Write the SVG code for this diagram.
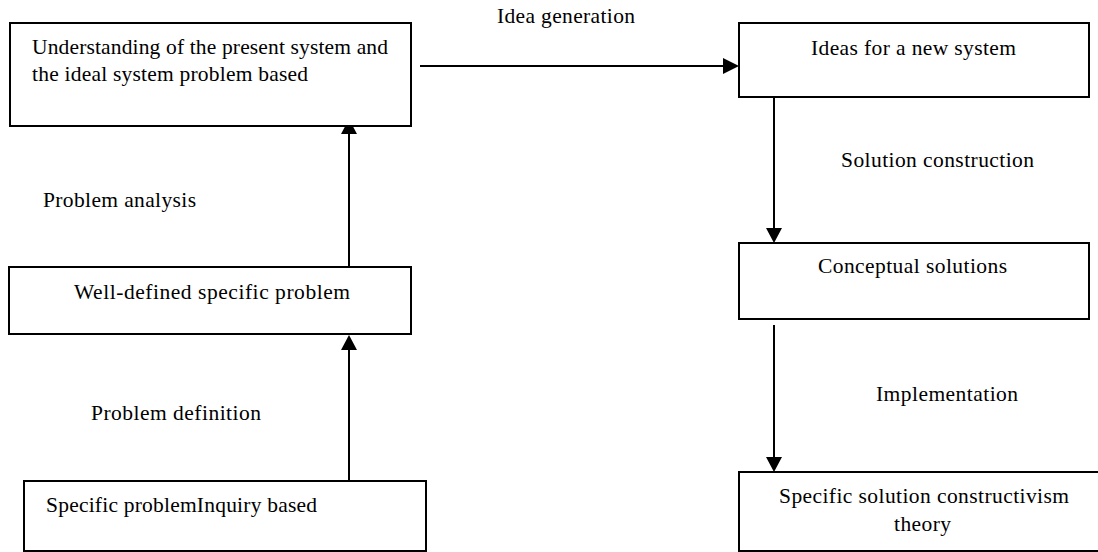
<svg xmlns="http://www.w3.org/2000/svg" width="1098" height="552" viewBox="0 0 1098 552">
<style>
.box{fill:#fff;stroke:#000;stroke-width:2}
text{font-family:'Liberation Serif','Times New Roman','DejaVu Serif',serif;font-size:21.5px;fill:#000}
.c{stroke:#000;stroke-width:2;fill:none}
.ah{fill:#000}
</style>
<rect width="1098" height="552" fill="#fff"/>
<g id="connectors">
<line class="c" x1="420" y1="66" x2="726" y2="66"/>
<line class="c" x1="349" y1="267" x2="349" y2="130"/>
<line class="c" x1="349" y1="481" x2="349" y2="346"/>
<line class="c" x1="774" y1="97" x2="774" y2="230"/>
<line class="c" x1="774" y1="325" x2="774" y2="459"/>
<path class="ah" d="M739,66 L723,58 L723,74 z"/>
<path class="ah" d="M349,119 L341,134 L357,134 z"/>
<path class="ah" d="M349,335 L341,350 L357,350 z"/>
<path class="ah" d="M774,243 L766,228 L782,228 z"/>
<path class="ah" d="M774,472 L766,457 L782,457 z"/>
<text x="497" y="23" textLength="138">Idea generation</text>
<text x="43" y="207" textLength="153">Problem analysis</text>
<text x="91" y="420" textLength="170">Problem definition</text>
<text x="841" y="167" textLength="193">Solution construction</text>
<text x="876" y="401" textLength="142">Implementation</text>
</g>
<g id="n1">
<rect class="box" x="10" y="23" width="401" height="103"/>
<text x="32" y="54" textLength="356">Understanding of the present system and</text>
<text x="32" y="81" textLength="276">the ideal system problem based</text>
</g>
<g id="n2">
<rect class="box" x="739" y="23" width="350" height="74"/>
<text x="811" y="55" textLength="205">Ideas for a new system</text>
</g>
<g id="n3">
<rect class="box" x="9" y="267" width="402" height="67"/>
<text x="74" y="299" textLength="276">Well-defined specific problem</text>
</g>
<g id="n4">
<rect class="box" x="24" y="481" width="402" height="70"/>
<text x="46" y="512" textLength="271">Specific problemInquiry based</text>
</g>
<g id="n5">
<rect class="box" x="739" y="243" width="350" height="76"/>
<text x="818" y="273" textLength="189">Conceptual solutions</text>
</g>
<g id="n6">
<rect class="box" x="739" y="472" width="370" height="79"/>
<text x="779" y="503" textLength="290">Specific solution constructivism</text>
<text x="894" y="531" textLength="57">theory</text>
</g>
</svg>
